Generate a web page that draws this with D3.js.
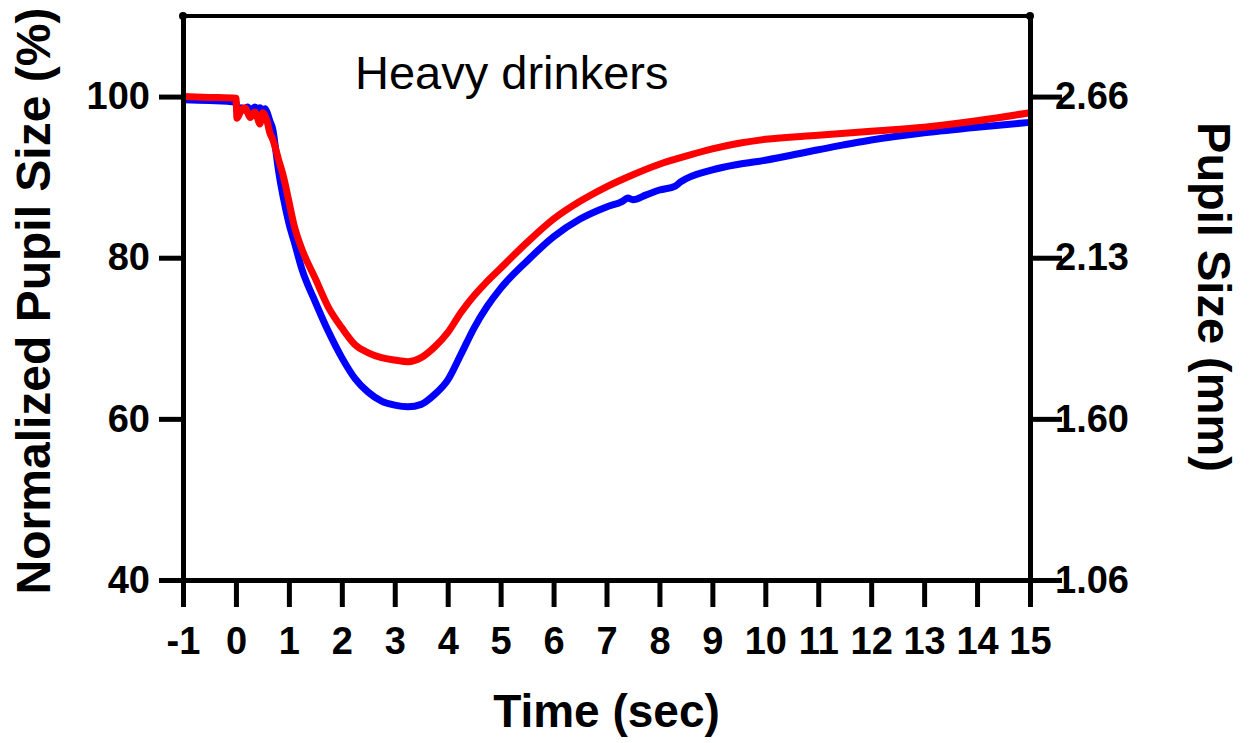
<!DOCTYPE html>
<html>
<head>
<meta charset="utf-8">
<script src="https://cdn.jsdelivr.net/npm/d3@7"></script>
<style>
  body { margin: 0; background: #fff; }
  text { font-family: "Liberation Sans", Arial, sans-serif; }
</style>
</head>
<body>
<div id="chart-area"></div>
<script>
var margin = {top: 16, right: 224, bottom: 163, left: 183};

var width = 1254 - margin.left - margin.right;
var height = 743 - margin.top - margin.bottom;

// red series
var redTime = [-1, -0.5, 0, 0.02, 0.1, 0.17, 0.22, 0.27, 0.32, 0.36, 0.41, 0.45, 0.51, 0.55, 0.59, 0.64,
  0.7, 0.75, 0.8, 0.9, 1.0, 1.1, 1.25, 1.5, 1.75, 2.0, 2.25, 2.5, 2.75, 3.0, 3.25, 3.5, 3.75,
  4.0, 4.25, 4.5, 4.75, 5.0, 5.5, 6.0, 6.5, 7.0, 7.5, 8.0, 8.5, 9.0, 9.5, 10, 11, 12, 13, 14, 15];
var redSize = [100.0, 99.9, 99.8, 97.3, 98.3, 98.6, 98.0, 97.4, 97.9, 98.1, 97.3, 96.6, 98.0, 97.6, 96.9, 95.5,
  94.6, 93.5, 92.3, 90.0, 87.0, 84.0, 81.0, 77.4, 73.8, 71.3, 69.2, 68.2, 67.6, 67.3, 67.1, 67.6, 68.9,
  70.7, 73.2, 75.3, 77.1, 78.7, 81.9, 84.8, 87.0, 88.8, 90.3, 91.6, 92.6, 93.5, 94.2, 94.7, 95.2, 95.7, 96.2, 97.0, 98.0];

// blue series
var blueTime = [-1, -0.5, 0, 0.02, 0.1, 0.17, 0.22, 0.27, 0.32, 0.36, 0.41, 0.45, 0.51, 0.55, 0.59, 0.64,
  0.7, 0.75, 0.8, 0.9, 1.0, 1.1, 1.25, 1.5, 1.75, 2.0, 2.25, 2.5, 2.75, 3.0, 3.25, 3.5, 3.75,
  4.0, 4.25, 4.5, 4.75, 5.0, 5.5, 6.0, 6.5, 7.0, 7.3, 7.4, 7.5, 7.75, 8.0, 8.3, 8.4, 9.0, 9.5, 10, 11, 12, 13, 14, 15];
var blueSize = [99.6, 99.5, 99.3, 98.3, 98.6, 98.3, 98.7, 98.2, 98.5, 98.7, 98.4, 98.6, 98.3, 98.5, 98.0, 97.0,
  95.8, 93.5, 91.0, 87.3, 84.3, 82.0, 78.5, 74.5, 70.8, 67.6, 65.0, 63.3, 62.2, 61.7, 61.5, 61.8, 63.0,
  64.8, 68.0, 71.3, 74.0, 76.2, 79.6, 82.6, 84.8, 86.3, 87.0, 87.4, 87.2, 87.8, 88.4, 88.9, 89.4, 90.9, 91.6, 92.1, 93.4, 94.6, 95.5, 96.2, 96.8];

var xTicks = d3.range(-1, 16);
var yTicks = [40, 60, 80, 100];
var mmTicks = [1.064, 1.596, 2.128, 2.66];

var svg = d3.select("#chart-area").append("svg")
            .attr("width", width + margin.left + margin.right)
            .attr("height", height + margin.top + margin.bottom);

var g = svg.append("g")
           .attr("transform", "translate(" + margin.left + "," + margin.top + ")");

var xscale = d3.scaleLinear().domain([-1, 15]).range([0, width]);
var yscale = d3.scaleLinear().domain([40, 110]).range([height, 0]);
var mmscale = d3.scaleLinear().domain([40 * 0.0266, 110 * 0.0266]).range([height, 0]);

function styleAxis(sel) {
  sel.attr("font-family", null).attr("font-size", null);
  sel.select(".domain").attr("stroke", "#000").attr("stroke-width", 5);
  sel.selectAll(".tick line").attr("stroke", "#000").attr("stroke-width", 5);
  sel.selectAll(".tick text")
     .attr("fill", "#000")
     .style("font-size", "38px")
     .style("font-weight", "bold");
}

// curves
var line = d3.line()
  .x(function(d){ return xscale(d[0]); })
  .y(function(d){ return yscale(d[1]); })
  .curve(d3.curveMonotoneX);

g.append("path")
 .datum(d3.zip(blueTime, blueSize))
 .attr("fill", "none")
 .attr("stroke", "#0000ff")
 .attr("stroke-width", 7)
 .attr("stroke-linejoin", "round")
 .attr("d", line);

g.append("path")
 .datum(d3.zip(redTime, redSize))
 .attr("fill", "none")
 .attr("stroke", "#ff0000")
 .attr("stroke-width", 7)
 .attr("stroke-linejoin", "round")
 .attr("d", line);

// axes
g.append("g")
 .attr("transform", "translate(0," + height + ")")
 .call(d3.axisBottom(xscale).tickValues(xTicks).tickSize(27).tickPadding(20).tickSizeOuter(0)
   .tickFormat(function(d){ return String(d); }))
 .call(styleAxis);

g.append("g")
 .call(d3.axisLeft(yscale).tickValues(yTicks).tickSize(24).tickPadding(9).tickSizeOuter(0))
 .call(styleAxis);

g.append("g")
 .attr("transform", "translate(" + width + ",0)")
 .call(d3.axisRight(mmscale).tickValues(mmTicks).tickSize(32).tickPadding(-7).tickSizeOuter(0)
   .tickFormat(d3.format(".2f")))
 .call(styleAxis);

// top border
g.append("line")
 .attr("x1", 0).attr("x2", width)
 .attr("y1", 0).attr("y2", 0)
 .attr("stroke", "#000").attr("stroke-width", 4);
g.selectAll(".corner")
 .data([0, width])
 .enter().append("circle")
 .attr("class", "corner")
 .attr("cx", function(d){ return d; })
 .attr("cy", 0)
 .attr("r", 4)
 .attr("fill", "#000");

// labels
svg.append("text")
   .attr("x", 355).attr("y", 89)
   .style("font-size", "47px")
   .attr("fill", "#000")
   .text("Heavy drinkers");

svg.append("text")
   .attr("text-anchor", "middle")
   .attr("x", margin.left + width / 2)
   .attr("y", 727)
   .style("font-size", "46px").style("font-weight", "bold")
   .text("Time (sec)");

svg.append("text")
   .attr("text-anchor", "middle")
   .attr("transform", "translate(50,301) rotate(-90)")
   .style("font-size", "48px").style("font-weight", "bold")
   .text("Normalized Pupil Size (%)");

svg.append("text")
   .attr("text-anchor", "middle")
   .attr("transform", "translate(1198,297) rotate(90)")
   .style("font-size", "47px").style("font-weight", "bold")
   .text("Pupil Size (mm)");
</script>
</body>
</html>
